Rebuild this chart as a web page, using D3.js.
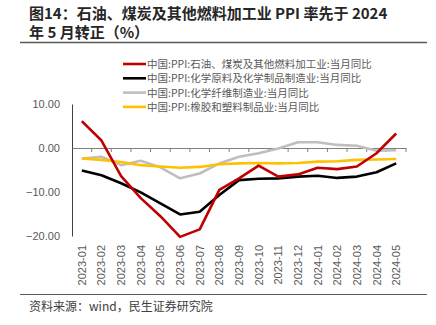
<!DOCTYPE html>
<html>
<head>
<meta charset="utf-8">
<script src="https://cdn.jsdelivr.net/npm/d3@7/dist/d3.min.js"></script>
<style>
  body { margin: 0; padding: 0; background: #fff; }
  svg { display: block; font-family: "Noto Sans CJK SC", "Noto Sans", sans-serif; }
</style>
</head>
<body>
<svg id="chart" width="436" height="325"></svg>
<script>
// data
var months = ["2023-01","2023-02","2023-03","2023-04","2023-05","2023-06","2023-07","2023-08","2023-09",
              "2023-10","2023-11","2023-12","2024-01","2024-02","2024-03","2024-04","2024-05"];
var oilCoal   = [6.1, 1.7, -6.4, -11.4, -15.5, -20.2, -18.5, -9.5, -6.9, -4.0, -6.5, -6.0, -4.5, -4.8, -4.2, -1.2, 3.3];
var chemRaw   = [-5.1, -6.2, -8.0, -10.1, -12.6, -15.1, -14.5, -10.7, -7.3, -7.0, -6.9, -6.5, -6.3, -6.8, -6.5, -5.5, -3.5];
var chemFiber = [-2.4, -2.0, -3.9, -2.9, -4.4, -6.9, -5.8, -3.5, -2.0, -1.2, -0.1, 1.3, 1.3, 0.7, 0.5, -0.6, -0.5];
var rubber    = [-2.4, -2.7, -3.2, -3.9, -4.2, -4.5, -4.3, -3.7, -3.5, -3.4, -3.5, -3.4, -3.1, -3.0, -2.7, -2.6, -2.5];
var seriesNames = ["中国:PPI:石油、煤炭及其他燃料加工业:当月同比",
                   "中国:PPI:化学原料及化学制品制造业:当月同比",
                   "中国:PPI:化学纤维制造业:当月同比",
                   "中国:PPI:橡胶和塑料制品业:当月同比"];
var seriesColors = ["#C00000", "#000000", "#BFBFBF", "#FFC000"];
var yTicks = [10, 0, -10, -20];

var svg = d3.select("#chart");

// title
svg.append("text").attr("x", 29).attr("y", 18.5)
  .attr("font-size", 15).attr("font-weight", "bold").attr("fill", "#262626")
  .text("图14：石油、煤炭及其他燃料加工业 PPI 率先于 2024");
svg.append("text").attr("x", 29).attr("y", 37.5)
  .attr("font-size", 15).attr("font-weight", "bold").attr("fill", "#262626")
  .text("年 5 月转正（%）");
svg.append("line").attr("x1", 20).attr("x2", 427).attr("y1", 42.5).attr("y2", 42.5)
  .attr("stroke", "#595959").attr("stroke-width", 1.5);

var x = d3.scaleBand().domain(months).range([72, 406]);
var y = d3.scaleLinear().domain([-20, 10]).range([236, 104]);

// y axis
var yAxis = svg.append("g").attr("transform", "translate(72,0)")
  .call(d3.axisLeft(y).tickValues(yTicks).tickSize(0).tickPadding(12).tickFormat(d3.format(".2f")));
yAxis.select(".domain").attr("stroke", "#404040").attr("stroke-width", 1);
yAxis.selectAll("text").attr("font-size", 11).attr("fill", "#595959")
  .attr("font-family", "Liberation Sans, Arial, sans-serif");

// x axis at zero
var xAxis = svg.append("g").attr("transform", "translate(0," + y(0) + ")")
  .call(d3.axisBottom(x).tickSize(0).tickFormat(""));
xAxis.select(".domain").attr("stroke", "#808080").attr("stroke-width", 1.2);
var bounds = months.map(function(m) { return x(m); }).concat([x.range()[1]]);
xAxis.selectAll("line.bt").data(bounds.slice(1)).enter().append("line")
  .attr("class", "bt")
  .attr("x1", function(d) { return d; }).attr("x2", function(d) { return d; })
  .attr("y1", 0).attr("y2", 4).attr("stroke", "#808080").attr("stroke-width", 1);

// x labels, rotated
svg.append("g").selectAll("text").data(months).enter().append("text")
  .attr("transform", function(d) { return "translate(" + (x(d) + x.bandwidth() / 2 + 4) + ",245) rotate(-90)"; })
  .attr("text-anchor", "end")
  .attr("font-size", 11).attr("fill", "#595959")
  .attr("font-family", "Liberation Sans, Arial, sans-serif")
  .text(function(d) { return d; });

// lines
var line = d3.line()
  .x(function(d, i) { return x(months[i]) + x.bandwidth() / 2; })
  .y(function(d) { return y(d); });
var allSeries = [rubber, chemFiber, chemRaw, oilCoal];
var drawColors = ["#FFC000", "#BFBFBF", "#000000", "#C00000"];
// gray first so yellow sits above it like the picture
var order = [1, 0, 2, 3];
order.forEach(function(k) {
  svg.append("path").datum(allSeries[k])
    .attr("fill", "none").attr("stroke", drawColors[k])
    .attr("stroke-width", 2.6).attr("stroke-linejoin", "round")
    .attr("d", line);
});

// legend
var legend = svg.append("g");
seriesNames.forEach(function(name, i) {
  var ly = 64 + i * 14.3;
  legend.append("line").attr("x1", 123).attr("x2", 146).attr("y1", ly).attr("y2", ly)
    .attr("stroke", seriesColors[i]).attr("stroke-width", 2.6);
  legend.append("text").attr("x", 147).attr("y", ly + 4)
    .attr("font-size", 10.5).attr("fill", "#595959").text(name);
});

// footer
svg.append("line").attr("x1", 20).attr("x2", 427).attr("y1", 294.5).attr("y2", 294.5)
  .attr("stroke", "#595959").attr("stroke-width", 1.2);
svg.append("text").attr("x", 29).attr("y", 311)
  .attr("font-size", 12).attr("fill", "#404040")
  .text("资料来源：wind，民生证券研究院");
</script>
</body>
</html>
